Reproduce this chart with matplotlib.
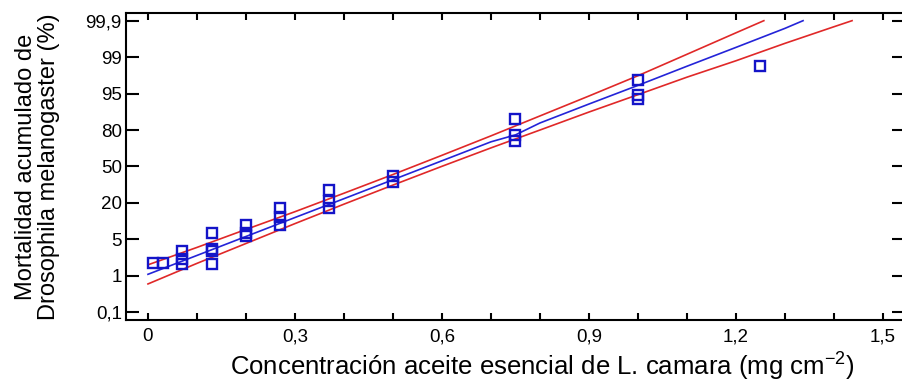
import numpy as np
import matplotlib
matplotlib.use("Agg")
import matplotlib.pyplot as plt
from matplotlib.ticker import MultipleLocator

plt.rcParams['font.family'] = ['Liberation Sans', 'DejaVu Sans']
plt.rcParams['mathtext.default'] = 'regular'

# probability grid: labelled levels, drawn evenly spaced
levels = [0.1, 1, 5, 20, 50, 80, 95, 99, 99.9]
level_labels = ['0,1', '1', '5', '20', '50', '80', '95', '99', '99,9']

# observed cumulative mortality (%)
conc = [0.01, 0.03, 0.07, 0.07, 0.07, 0.13, 0.13, 0.13, 0.13,
        0.20, 0.20, 0.20, 0.27, 0.27, 0.27, 0.37, 0.37, 0.37,
        0.50, 0.50, 0.75, 0.75, 0.75, 1.00, 1.00, 1.00, 1.25]
mort = [2.4, 2.4, 3.7, 2.9, 2.3, 7.6, 4.0, 3.7, 2.3,
        11.0, 7.6, 6.2, 17.9, 14.4, 11.0, 30.8, 21.2, 17.9,
        41.8, 37.6, 84.5, 76.1, 70.6, 96.5, 94.5, 92.7, 98.0]

# fitted model
fit_x = [0, 0.1, 0.2, 0.3, 0.4, 0.5, 0.6, 0.7, 0.75, 0.8, 0.9, 1.0, 1.1, 1.2, 1.3, 1.337]
fit_y = [1.17, 3.24, 6.2, 14.0, 23.5, 39.1, 54.7, 70.3, 76.0, 82.9, 90.7, 95.9, 98.0, 99.24, 99.71, 99.9]

# confidence limits
up_x = [0, 0.1, 0.2, 0.3, 0.4, 0.5, 0.6, 0.7, 0.8, 0.9, 1.0, 1.1, 1.2, 1.257]
up_y = [2.21, 4.12, 9.1, 16.4, 28.0, 43.4, 59.2, 75.2, 85.8, 94.0, 96.96, 99.07, 99.6, 99.9]
lo_x = [0, 0.1, 0.2, 0.3, 0.4, 0.5, 0.6, 0.7, 0.8, 0.9, 1.0, 1.1, 1.2, 1.3, 1.4, 1.437]
lo_y = [0.80, 2.37, 4.55, 11.5, 19.5, 34.7, 50.15, 65.3, 80.0, 87.4, 94.55, 96.8, 98.6, 99.34, 99.75, 99.9]

pos = np.arange(len(levels))


def grid(p):
    return np.interp(p, levels, pos)


fig = plt.figure(figsize=(9.03, 3.83), dpi=100)
ax = fig.add_axes([0.1395, 0.1645, 0.8616, 0.8016])

ax.plot(up_x, grid(up_y), color='#e02828', lw=1.2)
ax.plot(lo_x, grid(lo_y), color='#e02828', lw=1.2)
ax.plot(fit_x, grid(fit_y), color='#2424d8', lw=1.2)
ax.plot(conc, grid(mort), 's', ms=7, mfc='none', mec='#1414c8', mew=1.7)

ax.set_xlim(-0.0449, 1.543)
ax.set_ylim(-0.211, 8.211)

ax.xaxis.set_minor_locator(MultipleLocator(0.1))
ax.set_xticks([0, 0.3, 0.6, 0.9, 1.2, 1.5])
ax.set_xticklabels(['0', '0,3', '0,6', '0,9', '1,2', '1,5'])
ax.set_yticks(pos)
ax.set_yticklabels(level_labels)

ax.tick_params(axis='x', which='both', direction='in', length=5, width=1.5,
               top=True, labelsize=13.5, pad=6)
ax.tick_params(axis='y', direction='in', length=9, width=1.5,
               right=True, labelsize=13.5, pad=3)
for s in ax.spines.values():
    s.set_linewidth(1.5)

ax.set_xlabel('Concentración aceite esencial de L. camara (mg cm$^{-2}$)',
              fontsize=18.5)
ax.xaxis.set_label_coords(0.535, -0.10)
ax.set_ylabel('Mortalidad acumulado de\nDrosophila melanogaster (%)',
              fontsize=17, linespacing=1.05)
ax.yaxis.set_label_coords(-0.085, 0.5)

fig.savefig('out.png', dpi=100)
